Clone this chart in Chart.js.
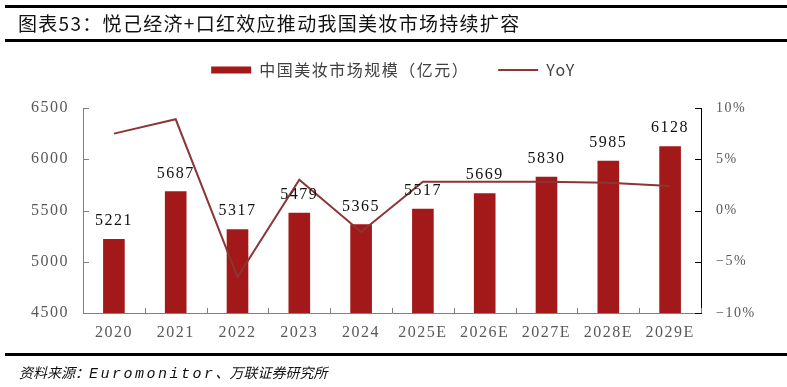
<!DOCTYPE html>
<html>
<head>
<meta charset="utf-8">
<script src="https://cdn.jsdelivr.net/npm/chart.js@4"></script>
<style>
  body { margin: 0; background: #fff; }
  #wrap { position: relative; width: 787px; height: 387px; overflow: hidden; }
  #chart { position: absolute; left: 0; top: 0; }
  .rule { position: absolute; left: 5px; right: 0; height: 3px; background: #000; }
  #title { position: absolute; left: 18px; top: 9px; font: 19px "Noto Sans CJK SC", sans-serif; color: #111; letter-spacing: 1.3px; }
  #source { position: absolute; left: 19px; top: 362px; font: italic 14px "Noto Sans CJK SC", sans-serif; color: #111; }
  #source .en { font-family: "Liberation Mono", monospace; font-size: 15px; letter-spacing: 2.5px; }
</style>
</head>
<body>
<div id="wrap">
  <canvas id="chart" width="787" height="387"></canvas>
  <div class="rule" style="top:5px"></div>
  <div id="title">图表53：悦己经济+口红效应推动我国美妆市场持续扩容</div>
  <div class="rule" style="top:39px"></div>
  <div class="rule" style="top:353px"></div>
  <div id="source">资料来源：<span class="en">Euromonitor</span>、万联证券研究所</div>
</div>
<script>
// data
const years = ['2020', '2021', '2022', '2023', '2024', '2025E', '2026E', '2027E', '2028E', '2029E'];
const marketSize = [5221, 5687, 5317, 5479, 5365, 5517, 5669, 5830, 5985, 6128];
const yoy = [7.5, 8.9, -6.5, 3.0, -2.1, 2.8, 2.8, 2.8, 2.7, 2.4];

const barColor = '#a31818';
const lineColor = '#8b3535';
const serif = '"Liberation Serif", "Times New Roman", serif';

// the source renders its text with a little tracking
const tracking = {
  id: 'tracking',
  beforeUpdate(chart) { chart.ctx.letterSpacing = '1.5px'; },
  beforeDraw(chart) { chart.ctx.letterSpacing = '1.5px'; }
};

// inner tick marks on all three axes
const innerTicks = {
  id: 'innerTicks',
  afterDraw(chart) {
    const ctx = chart.ctx;
    const { x, y, y1 } = chart.scales;
    ctx.save();
    ctx.lineWidth = 1;
    ctx.strokeStyle = '#808080';
    ctx.beginPath();
    y.ticks.forEach(t => {
      const py = Math.round(y.getPixelForValue(t.value)) + 0.5;
      ctx.moveTo(y.right, py); ctx.lineTo(y.right + 6, py);
    });
    for (let i = 0; i <= years.length; i++) {
      const px = Math.round(x.getPixelForValue(i - 0.5)) + 0.5;
      ctx.moveTo(px, x.top); ctx.lineTo(px, x.top - 5);
    }
    ctx.stroke();
    ctx.strokeStyle = '#000';
    ctx.beginPath();
    y1.ticks.forEach(t => {
      const py = Math.round(y1.getPixelForValue(t.value)) + 0.5;
      ctx.moveTo(y1.left, py); ctx.lineTo(y1.left - 6, py);
    });
    ctx.stroke();
    ctx.restore();
  }
};

// value labels above bars
const barLabels = {
  id: 'barLabels',
  afterDatasetsDraw(chart) {
    const ctx = chart.ctx;
    const meta = chart.getDatasetMeta(0);
    ctx.save();
    ctx.font = '16px ' + serif;
    ctx.fillStyle = '#111';
    ctx.textAlign = 'center';
    ctx.textBaseline = 'bottom';
    ctx.letterSpacing = '1.5px';
    meta.data.forEach((bar, i) => {
      ctx.fillText(String(marketSize[i]), bar.x, bar.y - 10);
    });
    ctx.restore();
  }
};

new Chart(document.getElementById('chart'), {
  data: {
    labels: years,
    datasets: [{
      type: 'bar',
      label: '中国美妆市场规模（亿元）',
      data: marketSize,
      backgroundColor: barColor,
      borderWidth: 0,
      categoryPercentage: 1,
      barPercentage: 0.35,
      xAxisID: 'x',
      yAxisID: 'y',
      order: 2,
      pointStyle: 'rect'
    }, {
      type: 'line',
      label: 'YoY',
      data: yoy,
      borderColor: lineColor,
      backgroundColor: lineColor,
      borderWidth: 2,
      pointRadius: 0,
      tension: 0,
      xAxisID: 'x',
      yAxisID: 'y1',
      order: 1,
      pointStyle: 'line'
    }]
  },
  options: {
    responsive: false,
    animation: false,
    layout: { padding: { top: 33, left: 0, right: 0, bottom: 0 } },
    plugins: {
      tooltip: { enabled: false },
      legend: {
        position: 'top',
        labels: {
          usePointStyle: true,
          pointStyleWidth: 40,
          boxHeight: 7,
          padding: 29,
          color: '#404040',
          font: { family: '"Noto Sans CJK SC", sans-serif', size: 16 },
          sort: (a, b) => a.datasetIndex - b.datasetIndex
        }
      }
    },
    scales: {
      x: {
        offset: true,
        grid: { display: false, drawTicks: false },
        border: { display: true, color: '#808080', width: 1 },
        ticks: { color: '#595959', font: { family: serif, size: 16 }, padding: 10, maxRotation: 0 },
        afterFit: s => { s.height = 74; }
      },
      // empty spacer between legend and plot area
      gap: {
        type: 'category',
        position: 'top',
        grid: { display: false },
        border: { display: false },
        ticks: { display: false },
        afterFit: s => { s.height = 20; }
      },
      y: {
        position: 'left',
        min: 4500, max: 6500,
        grid: { display: false, drawTicks: false },
        border: { display: true, color: '#808080', width: 1 },
        ticks: {
          stepSize: 500, color: '#595959', font: { family: serif, size: 16 }, padding: 14,
          callback: v => String(v)
        },
        afterFit: s => { s.width = 83; }
      },
      y1: {
        position: 'right',
        min: -10, max: 10,
        grid: { display: false, drawTicks: false },
        border: { display: true, color: '#000', width: 1 },
        ticks: {
          stepSize: 5, color: '#595959', font: { family: serif, size: 14 }, padding: 15,
          callback: v => (v < 0 ? '\u2212' + Math.abs(v) : v) + '%'
        },
        afterFit: s => { s.width = 86; }
      }
    }
  },
  plugins: [tracking, innerTicks, barLabels]
});
</script>
</body>
</html>
